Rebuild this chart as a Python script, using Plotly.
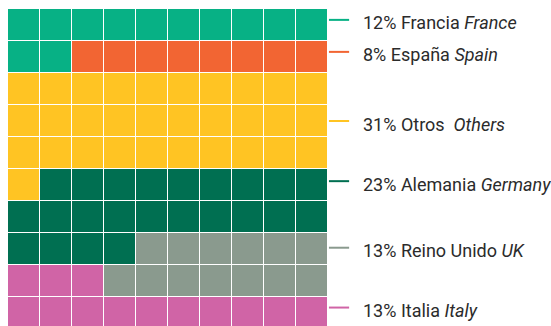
import plotly.graph_objects as go

# Share of total, one waffle cell per percent
countries_es = ["Francia", "España", "Otros", "Alemania", "Reino Unido", "Italia"]
countries_en = ["France", "Spain", "Others", "Germany", "UK", "Italy"]
shares = [12, 8, 31, 23, 13, 13]
colors = ["#07B185", "#F26533", "#FFC423", "#006F51", "#8A9A8E", "#D064A6"]
# Fill direction: "top" fills from the top row down, "bottom" from the bottom row up
fill_from = ["top", "top", "top", "top", "rest", "bottom"]

# Row (in grid units) where each label and its leader line sit
label_rows = [-0.16, 0.84, 3.0, 4.88, 6.96, 8.83]

N_COLS = 10
N_ROWS = 10
PX = 32  # one grid step in pixels
W, H = 551, 326

z = [[None] * N_COLS for _ in range(N_ROWS)]
top_cells = [(r, c) for r in range(N_ROWS) for c in range(N_COLS)]
bottom_cells = [(r, c) for r in reversed(range(N_ROWS)) for c in range(N_COLS)]

ti = 0
for i, n in enumerate(shares):
    if fill_from[i] == "top":
        for r, c in top_cells[ti:ti + n]:
            z[r][c] = i
        ti += n
bi = 0
for i, n in enumerate(shares):
    if fill_from[i] == "bottom":
        for r, c in bottom_cells[bi:bi + n]:
            z[r][c] = i
        bi += n
for i, n in enumerate(shares):
    if fill_from[i] == "rest":
        for r in range(N_ROWS):
            for c in range(N_COLS):
                if z[r][c] is None:
                    z[r][c] = i

k = len(shares)
colorscale = []
for i, c in enumerate(colors):
    colorscale.append([i / k, c])
    colorscale.append([(i + 1) / k, c])

fig = go.Figure(go.Heatmap(
    z=z,
    x=list(range(N_COLS)),
    y=list(range(N_ROWS)),
    zmin=-0.5, zmax=k - 0.5,
    colorscale=colorscale,
    showscale=False,
    xgap=1, ygap=1,
    hoverinfo="skip",
))

x0 = -0.5 - 8 / PX
y0 = -0.5 - 9 / PX

for es, en, s, c, r in zip(countries_es, countries_en, shares, colors, label_rows):
    fig.add_shape(type="line", xref="x", yref="y",
                  x0=9.53, x1=10.16, y0=r, y1=r,
                  line=dict(color=c, width=2))
    label = f"{s}% {es}  <i>{en}</i>" if en == "Others" else f"{s}% {es} <i>{en}</i>"
    fig.add_annotation(x=10.53, y=r, xref="x", yref="y", text=label,
                       showarrow=False, xanchor="left", yanchor="middle",
                       yshift=-3,
                       font=dict(family="Roboto, sans-serif",
                                 size=18, color="#2b2b2b"))

fig.update_layout(
    width=W, height=H,
    margin=dict(l=0, r=0, t=0, b=0),
    paper_bgcolor="white", plot_bgcolor="white",
    xaxis=dict(range=[x0, x0 + W / PX], visible=False, fixedrange=True),
    yaxis=dict(range=[y0 + H / PX, y0], visible=False, fixedrange=True),
    showlegend=False,
)

fig.write_html("out.html")
